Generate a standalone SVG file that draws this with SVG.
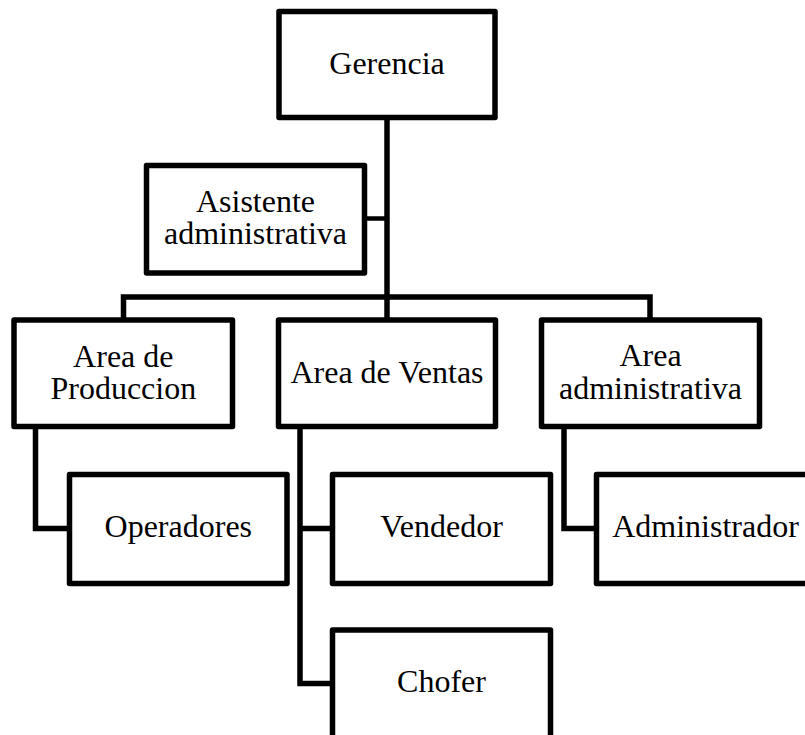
<svg xmlns="http://www.w3.org/2000/svg" width="805" height="735" viewBox="0 0 805 735">
  <style>
    .box { fill: #ffffff; stroke: #000000; stroke-width: 5.5; stroke-linejoin: round; }
    .lbl { font-family: "Liberation Serif", "Times New Roman", serif; font-size: 32px; fill: #000000; text-anchor: middle; }
    .wire { fill: none; stroke: #000000; stroke-width: 5.5; stroke-linejoin: miter; stroke-linecap: square; }
  </style>
  <rect width="805" height="735" fill="#ffffff"/>

  <!-- connectors -->
  <g id="connectors" class="wire">
    <path d="M387 117.5 V320"/>
    <path d="M364.5 218.5 H387" stroke-width="4.5" stroke-linecap="butt"/>
    <path d="M123.5 320 V297 H650 V320"/>
    <path d="M35.5 426.5 V528.5 H69.5" stroke-linecap="butt"/>
    <path d="M300 426.5 V683.5 H332.5" stroke-linecap="butt"/>
    <path d="M300 528.5 H332.5" stroke-linecap="butt"/>
    <path d="M564 426.5 V528.5 H596.5" stroke-linecap="butt"/>
  </g>

  <g id="gerencia">
    <rect class="box" x="279" y="11.5" width="216" height="106"/>
    <text class="lbl" x="387" y="74">Gerencia</text>
  </g>

  <g id="asistente">
    <rect class="box" x="146.5" y="165.5" width="218" height="107.5"/>
    <text class="lbl" x="255.5" y="212">Asistente</text>
    <text class="lbl" x="255.5" y="244">administrativa</text>
  </g>

  <g id="area-produccion">
    <rect class="box" x="14" y="320" width="218.5" height="106.5"/>
    <text class="lbl" x="123.3" y="367">Area de</text>
    <text class="lbl" x="123.3" y="399">Produccion</text>
  </g>

  <g id="area-ventas">
    <rect class="box" x="278.5" y="320" width="217" height="106.5"/>
    <text class="lbl" x="387" y="383">Area de Ventas</text>
  </g>

  <g id="area-administrativa">
    <rect class="box" x="541.5" y="320" width="218" height="106.5"/>
    <text class="lbl" x="650.5" y="366">Area</text>
    <text class="lbl" x="650.5" y="399">administrativa</text>
  </g>

  <g id="operadores">
    <rect class="box" x="69.5" y="474.5" width="217.5" height="109"/>
    <text class="lbl" x="178.3" y="537">Operadores</text>
  </g>

  <g id="vendedor">
    <rect class="box" x="332.5" y="474.5" width="218" height="109"/>
    <text class="lbl" x="441.5" y="537">Vendedor</text>
  </g>

  <g id="chofer">
    <rect class="box" x="332.5" y="630" width="218" height="109"/>
    <text class="lbl" x="441.5" y="692">Chofer</text>
  </g>

  <g id="administrador">
    <rect class="box" x="596.5" y="474.5" width="218" height="109"/>
    <text class="lbl" x="705.5" y="537">Administrador</text>
  </g>
</svg>
